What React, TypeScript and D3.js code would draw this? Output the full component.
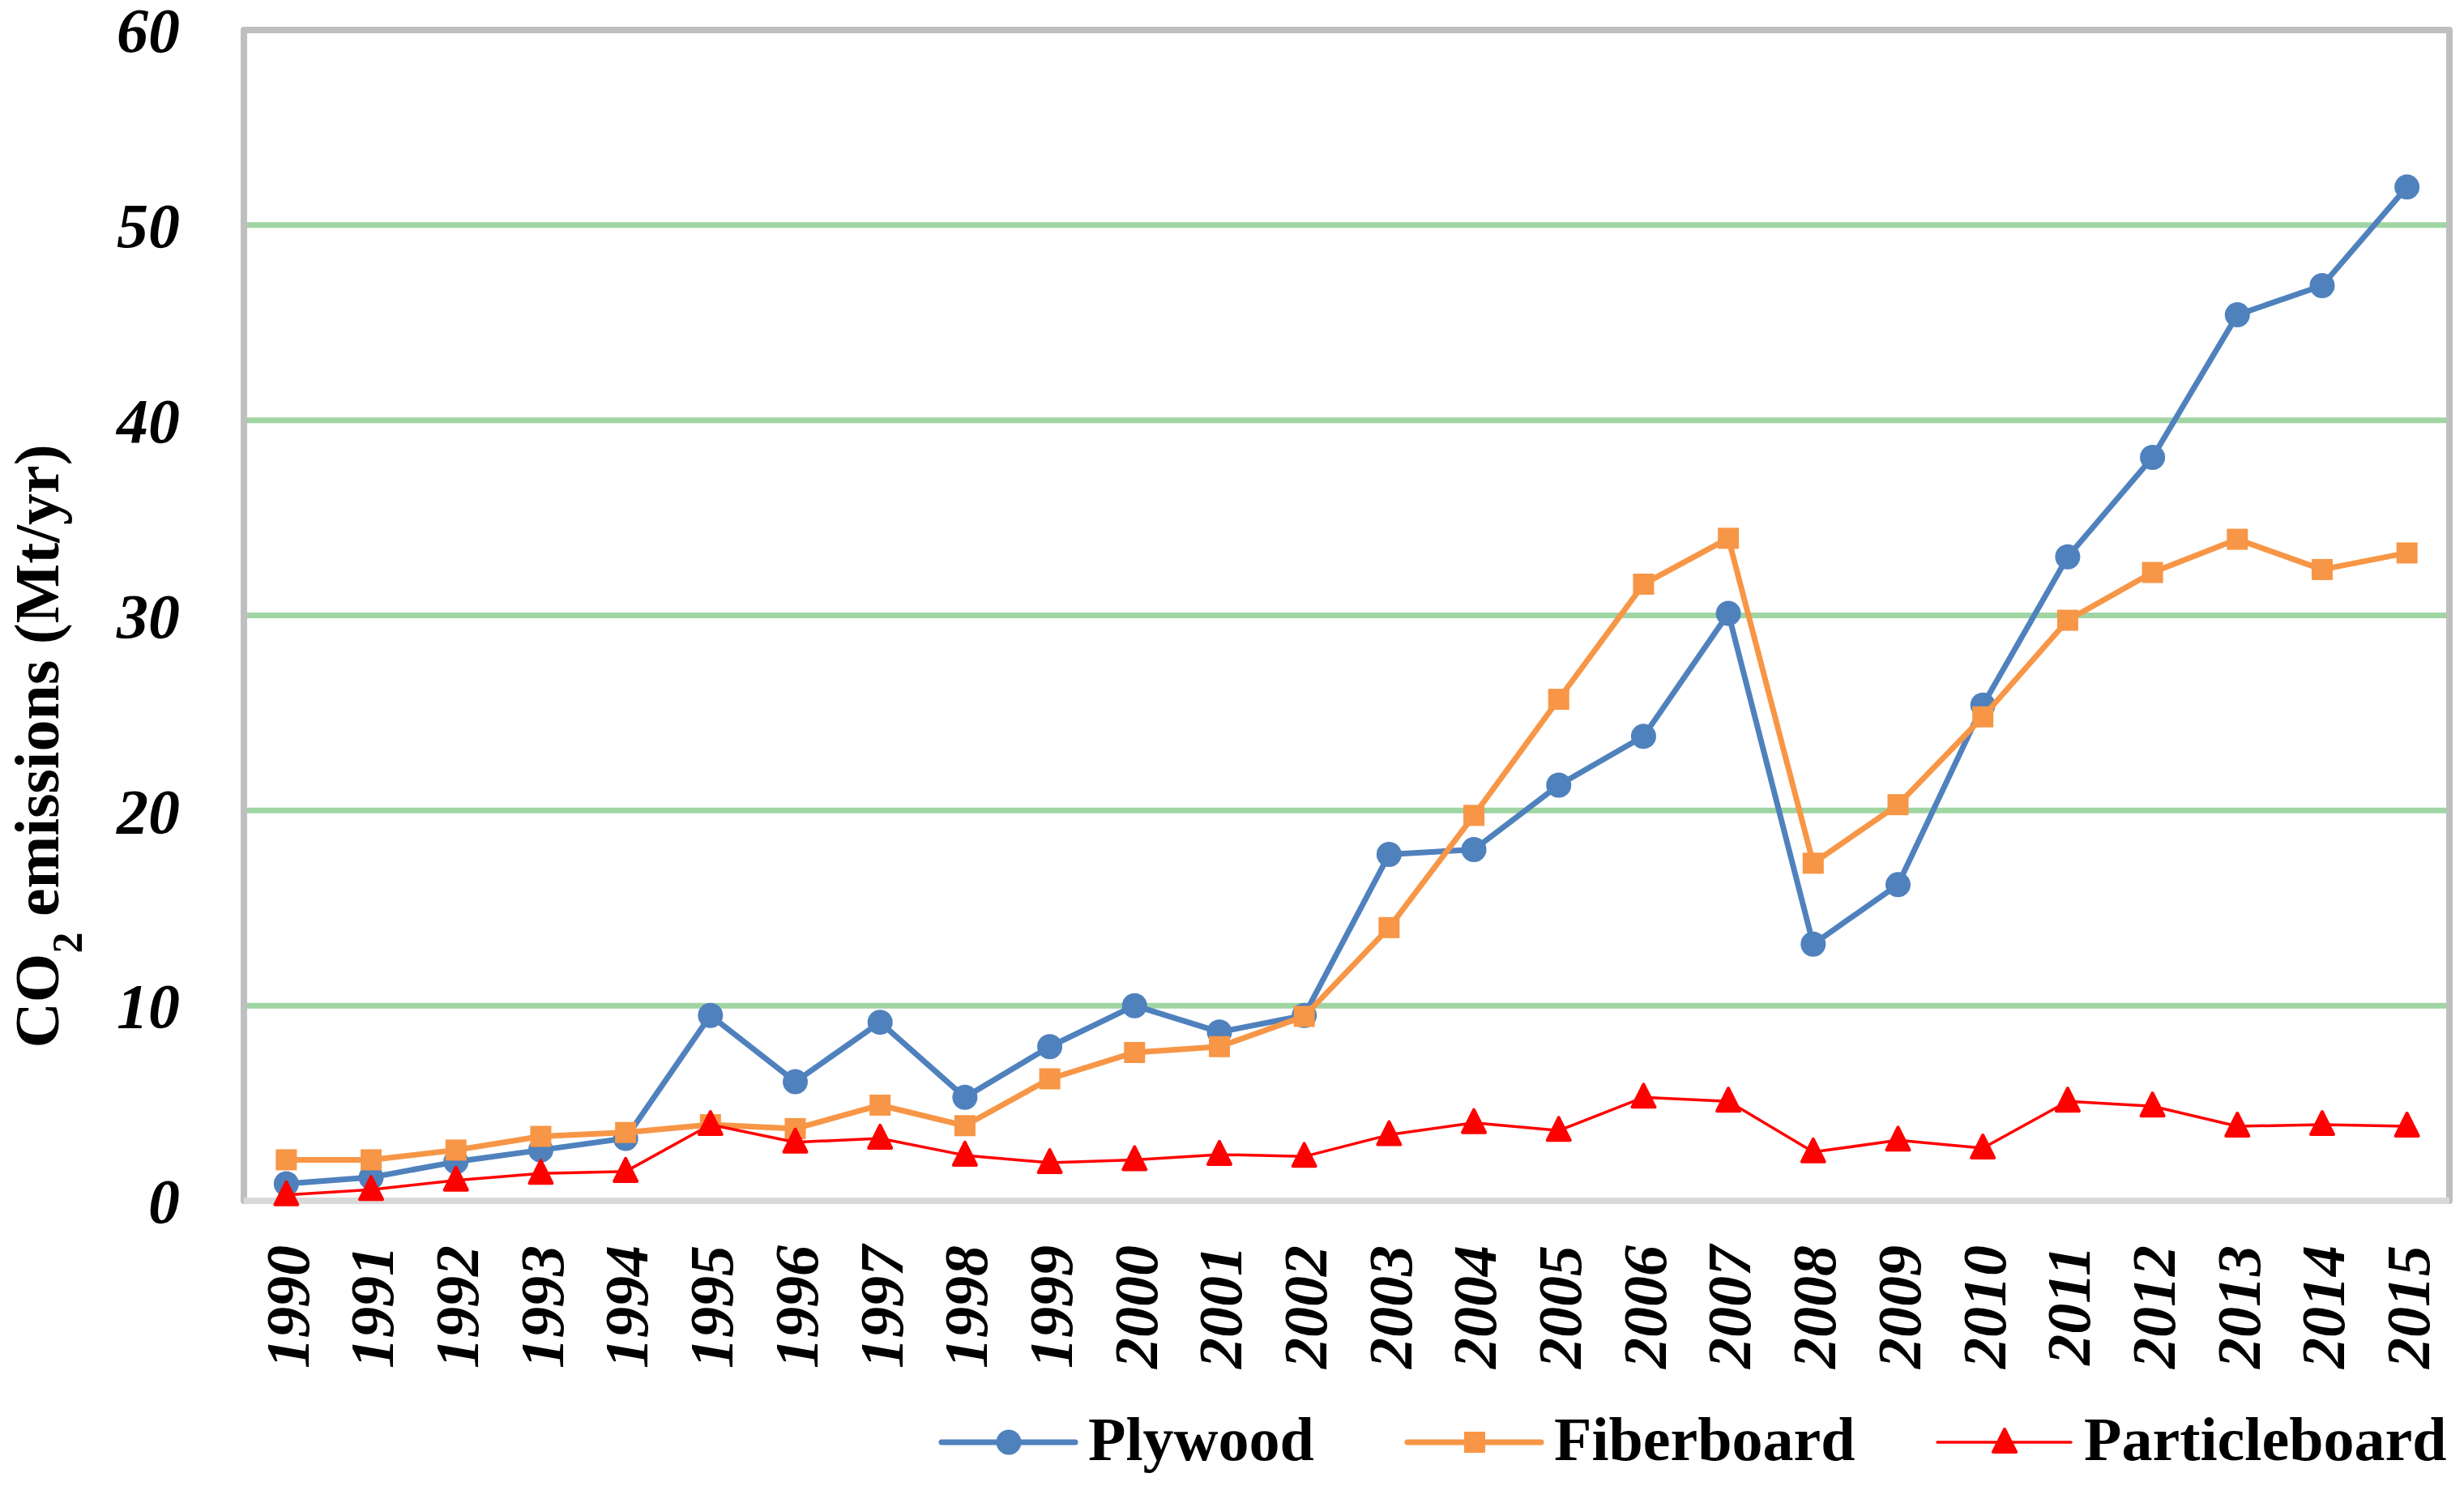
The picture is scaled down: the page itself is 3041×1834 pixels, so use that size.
import * as d3 from "d3";

const years = [
  "1990", "1991", "1992", "1993", "1994", "1995", "1996", "1997", "1998", "1999",
  "2000", "2001", "2002", "2003", "2004", "2005", "2006", "2007", "2008", "2009",
  "2010", "2011", "2012", "2013", "2014", "2015",
];

const plywood = [
  0.87, 1.2, 2.0, 2.6, 3.2, 9.5, 6.1, 9.15, 5.3, 7.9,
  10.0, 8.65, 9.5, 17.75, 18.0, 21.3, 23.8, 30.1, 13.15, 16.2,
  25.4, 33.0, 38.1, 45.4, 46.9, 51.95,
];

const fiberboard = [
  2.1, 2.1, 2.6, 3.3, 3.5, 3.9, 3.7, 4.9, 3.85, 6.25,
  7.6, 7.9, 9.45, 14.0, 19.75, 25.7, 31.6, 33.95, 17.3, 20.3,
  24.8, 29.75, 32.2, 33.9, 32.35, 33.2,
];

const particleboard = [
  0.3, 0.57, 1.05, 1.4, 1.5, 3.9, 3.0, 3.2, 2.33, 1.95,
  2.1, 2.37, 2.27, 3.38, 4.0, 3.6, 5.3, 5.1, 2.5, 3.1,
  2.7, 5.1, 4.85, 3.82, 3.9, 3.82,
];

const yTicks = [0, 10, 20, 30, 40, 50, 60];

const W = 3041;
const H = 1834;
const plot = { left: 301, right: 3023, top: 37, bottom: 1482 };
const FONT = '"Palatino Linotype", "Book Antiqua", Palatino, "Liberation Serif", serif';

const series = [
  { name: "Plywood", values: plywood, color: "#4f81bd", width: 7, marker: "circle" },
  { name: "Fiberboard", values: fiberboard, color: "#f79646", width: 7, marker: "square" },
  { name: "Particleboard", values: particleboard, color: "#ff0000", width: 3.5, marker: "triangle" },
];

// legend item start positions (line start)
const legendX = [1162, 1737, 2391];

const Marker = ({ type, x, y, color }: { type: string; x: number; y: number; color: string }) => {
  if (type === "circle") return <circle cx={x} cy={y} r={15.5} fill={color} />;
  if (type === "square")
    return <rect x={x - 13} y={y - 13} width={26} height={26} fill={color} />;
  return (
    <path
      d={`M${x},${y - 16}L${x + 14},${y + 12}L${x - 14},${y + 12}Z`}
      fill={color}
      stroke={color}
      strokeWidth={4}
      strokeLinejoin="round"
    />
  );
};

export default function App() {
  const x = d3.scalePoint<string>().domain(years).range([plot.left, plot.right]).padding(0.5);
  const y = d3.scaleLinear().domain([0, 60]).range([plot.bottom, plot.top]);
  const line = d3
    .line<number>()
    .x((_, i) => x(years[i]) as number)
    .y((d) => y(d));

  return (
    <div style={{ position: "absolute", left: 0, top: 0 }}>
      <svg width={W} height={H} style={{ display: "block", background: "#fff" }}>
        <rect width={W} height={H} fill="#fff" />
        {/* gridlines */}
        {yTicks
          .filter((t) => t > 0 && t < 60)
          .map((t) => (
            <line key={t} x1={plot.left} x2={plot.right} y1={y(t)} y2={y(t)} stroke="#a0d5a3" strokeWidth={7} />
          ))}
        {/* plot border */}
        <rect
          x={plot.left}
          y={plot.top}
          width={plot.right - plot.left}
          height={plot.bottom - plot.top}
          fill="none"
          stroke="#bfbfbf"
          strokeWidth={8}
          strokeLinejoin="round"
        />
        {/* x axis line */}
        <line x1={plot.left} x2={plot.right} y1={plot.bottom} y2={plot.bottom} stroke="#d9d9d9" strokeWidth={8} />

        {/* y tick labels */}
        {yTicks.map((t) => (
          <text
            key={t}
            x={222}
            y={y(t)}
            dy="0.35em"
            textAnchor="end"
            fontFamily={FONT}
            fontWeight="bold"
            fontStyle="italic"
            fontSize={78}
          >
            {t}
          </text>
        ))}

        {/* x tick labels */}
        {years.map((yr) => (
          <text
            key={yr}
            transform={`translate(${x(yr)},1537) rotate(-90)`}
            dy="0.36em"
            textAnchor="end"
            fontFamily={FONT}
            fontWeight="bold"
            fontStyle="italic"
            fontSize={76}
          >
            {yr}
          </text>
        ))}

        {/* y title */}
        <text
          transform="translate(45,921) rotate(-90)"
          dy="0.35em"
          textAnchor="middle"
          fontFamily={FONT}
          fontWeight="bold"
          fontSize={78}
        >
          CO
          <tspan baselineShift="sub" fontSize={52}>2</tspan>
          <tspan> emissions (Mt/yr)</tspan>
        </text>

        {/* series */}
        {series.map((s) => (
          <g key={s.name}>
            <path d={line(s.values) as string} fill="none" stroke={s.color} strokeWidth={s.width} strokeLinejoin="round" />
            {s.values.map((v, i) => (
              <Marker key={i} type={s.marker} x={x(years[i]) as number} y={y(v)} color={s.color} />
            ))}
          </g>
        ))}

        {/* legend */}
        {series.map((s, i) => {
          const lx = legendX[i];
          const ly = 1780;
          return (
            <g key={s.name}>
              <line x1={lx} x2={lx + 165} y1={ly} y2={ly} stroke={s.color} strokeWidth={s.width} strokeLinecap="round" />
              <Marker type={s.marker} x={lx + 83} y={ly} color={s.color} />
              <text x={lx + 181} y={1802} fontFamily={FONT} fontWeight="bold" fontSize={76}>
                {s.name}
              </text>
            </g>
          );
        })}
      </svg>
    </div>
  );
}
